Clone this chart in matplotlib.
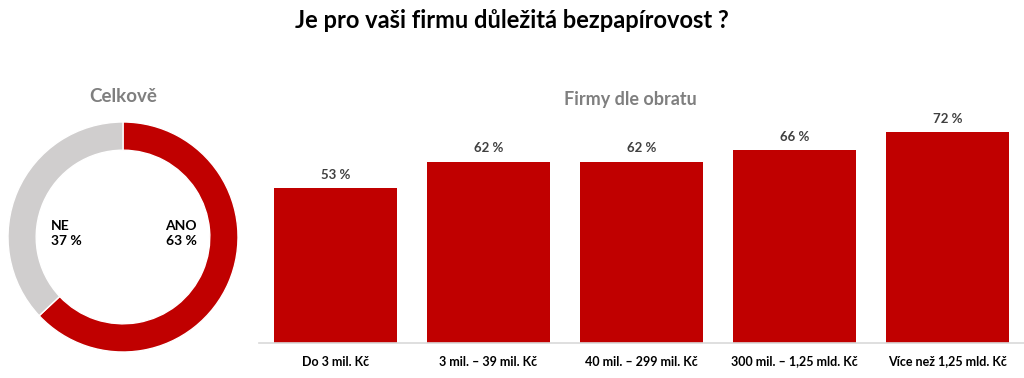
import matplotlib.pyplot as plt

plt.rcParams['font.family'] = ['Lato', 'DejaVu Sans']

# Data
title = "Je pro vaši firmu důležitá bezpapírovost ?"
donut_labels = ["ANO", "NE"]
donut_values = [63, 37]
categories = ["Do 3 mil. Kč", "3 mil. – 39 mil. Kč", "40 mil. – 299 mil. Kč",
              "300 mil. – 1,25 mld. Kč", "Více než 1,25 mld. Kč"]
values = [53, 62, 62, 66, 72]

red = "#C00000"
grey = "#D0CECE"

fig = plt.figure(figsize=(10.24, 3.78), dpi=100)
fig.text(0.5, 0.945, title, ha="center", va="center", fontsize=17,
         fontweight="bold", color="black")

# Donut
ax1 = fig.add_axes([8 / 1024, 26 / 378, 230 / 1024, 230 / 378])
ax1.pie(donut_values, colors=[red, grey], startangle=90, counterclock=False,
        radius=1, wedgeprops=dict(width=0.245, edgecolor="white", linewidth=1))
ax1.set_xlim(-1, 1)
ax1.set_ylim(-1, 1)
ax1.set_aspect("equal")
ax1.axis("off")
ax1.text(0.37, 0.03, f"{donut_labels[0]}\n{donut_values[0]} %", ha="left",
         va="center", fontsize=10, fontweight="bold", linespacing=1.3)
ax1.text(-0.63, 0.03, f"{donut_labels[1]}\n{donut_values[1]} %", ha="left",
         va="center", fontsize=10, fontweight="bold", linespacing=1.3)
fig.text(123 / 1024, 1 - 97 / 378, "Celkově", ha="center", va="center",
         fontsize=13.5, fontweight="bold", color="#7F7F7F")

# Bars
ax2 = fig.add_axes([259 / 1024, 35 / 378, 765 / 1024, 234 / 378])
x = range(len(categories))
ax2.bar(x, values, width=0.8, color=red)
for xi, v in zip(x, values):
    ax2.text(xi, v + 2.5, f"{v} %", ha="center", va="bottom", fontsize=9.5,
             fontweight="bold", color="#404040")
ax2.set_xlim(-0.5, len(categories) - 0.5)
ax2.set_ylim(0, 80)
ax2.set_xticks(list(x))
ax2.set_xticklabels(categories, fontsize=9, fontweight="bold")
ax2.tick_params(axis="x", length=0, pad=9)
ax2.set_yticks([])
for s in ["top", "right", "left"]:
    ax2.spines[s].set_visible(False)
ax2.spines["bottom"].set_color("#D9D9D9")
ax2.spines["bottom"].set_linewidth(1.2)
fig.text(630 / 1024, 1 - 100 / 378, "Firmy dle obratu", ha="center",
         va="center", fontsize=13, fontweight="bold", color="#7F7F7F")

fig.savefig("out.png", dpi=100)
